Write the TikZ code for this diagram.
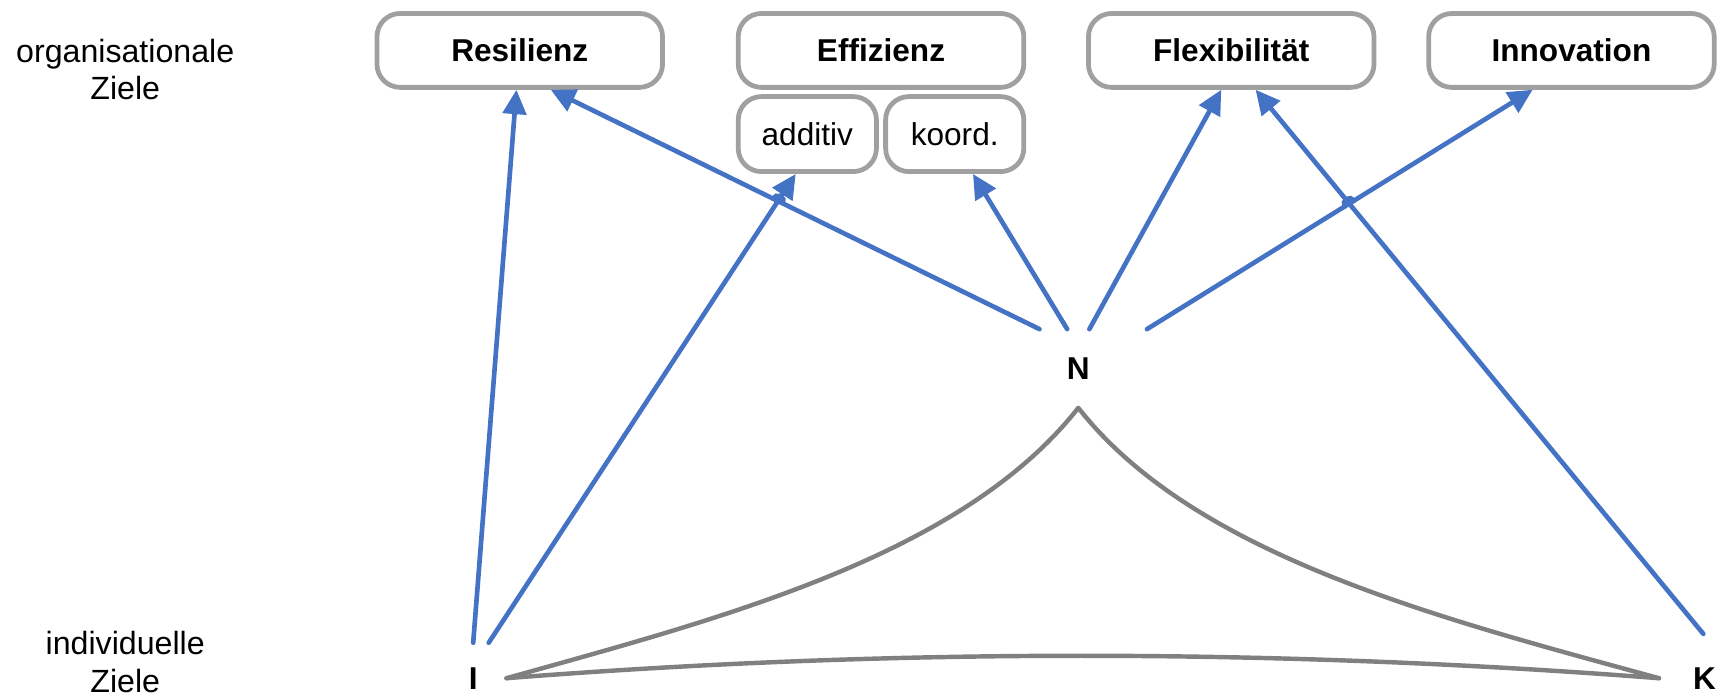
\documentclass[tikz,border=0pt]{standalone}
\usepackage{fontspec}
\setmainfont{Liberation Sans}
\usetikzlibrary{arrows.meta,calc}
\definecolor{boxgray}{RGB}{160,160,160}
\definecolor{curvegray}{RGB}{128,128,128}
\definecolor{arrblue}{RGB}{68,114,196}
\begin{document}
\begin{tikzpicture}[x=1pt,y=-1pt,
  goal/.style={draw=boxgray, line width=4.3pt, rounded corners=21pt, fill=white,
    minimum width=257.7pt, minimum height=66.7pt, inner sep=0pt,
    text height=20.3pt, text depth=0pt, font=\fontsize{28.5}{33}\selectfont\bfseries},
  sub/.style={draw=boxgray, line width=4.3pt, rounded corners=21pt, fill=white,
    minimum width=124.7pt, minimum height=67.7pt, inner sep=0pt,
    text height=20.3pt, text depth=0pt, font=\fontsize{28.5}{33}\selectfont},
  lab/.style={anchor=base, inner sep=0pt, font=\fontsize{29}{33.5}\selectfont},
  pnt/.style={inner sep=0pt, text height=20.3pt, text depth=0pt, font=\fontsize{28.5}{33}\selectfont\bfseries},
  arr/.style={draw=arrblue, line width=4.2pt, line cap=round, -{Triangle[length=22pt,width=21pt]}},
  hop/.style={draw=arrblue, line width=4.2pt, line cap=round},
  link/.style={draw=curvegray, line width=4pt, line cap=round, line join=round}
]
\useasboundingbox (0,0) rectangle (1566.5,630.8);

% side labels
\node[lab] (org1) at (113,56) {organisationale};
\node[lab] (org2) at (113,89.5) {Ziele};
\node[lab] (ind1) at (113,591) {individuelle};
\node[lab] (ind2) at (113,624.5) {Ziele};

% goal boxes
\node[goal] (res) at (469,45.5) {Resilienz};
\node[goal] (eff) at (795,45.5) {Effizienz};
\node[goal] (flex) at (1111,45.5) {Flexibilität};
\node[goal] (inn) at (1418,45.5) {Innovation};
\node[sub] (add) at (728.5,121) {additiv};
\node[sub] (koo) at (861.5,121) {koord.};

% actors
\node[pnt] (I) at (427,612) {I};
\node[pnt] (N) at (973,332) {N};
\node[pnt] (K) at (1538,612) {K};

% connector ends
\coordinate (i1) at (427,580);
\coordinate (i2) at (441,580);
\coordinate (n1) at (938,297);
\coordinate (n2) at (963,297);
\coordinate (n3) at (983,297);
\coordinate (n4) at (1035,297);
\coordinate (k1) at (1537,572);
\coordinate (tRes1) at ([xshift=-3pt]res.south);
\coordinate (tRes2) at ([xshift=28pt]res.south);
\coordinate (tAdd) at ([xshift=-10.5pt]add.south);
\coordinate (tKoo) at ([xshift=16.5pt]koo.south);
\coordinate (tFlex1) at ([xshift=-9pt]flex.south);
\coordinate (tFlex2) at ([xshift=22pt]flex.south);
\coordinate (tInn) at ([xshift=-35pt]inn.south);

\coordinate (iC) at (457,612);
\coordinate (nC) at (973,368);
\coordinate (kC) at (1497,612);

% grey triangle
\draw[link] (iC) .. controls (650,558) and (868,502) .. (nC)
            .. controls (1078,502) and (1300,558) .. (kC);
\draw[link] (iC) .. controls (800,585) and (1150,585) .. (kC);

% arrows
\draw[arr] (i1) -- (tRes1);
\draw[arr] (i2) -- (tAdd);
\draw[arr] (n1) -- (tRes2);
\draw[arr] (n2) -- (tKoo);
\draw[arr] (n3) -- (tFlex1);
\draw[arr] (n4) -- (tInn);
\draw[arr] (k1) -- (tFlex2);

% line hops at crossings
\coordinate (x1) at (intersection of i2--tAdd and n1--tRes2);
\coordinate (x2) at (intersection of k1--tFlex2 and n4--tInn);
\draw[hop] ($(x1)!5pt!(n1)$) arc[start angle=-25.9, end angle=154.1, radius=5pt];
\draw[hop] ($(x2)!5pt!(n4)$) arc[start angle=211.6, end angle=31.6, radius=5pt];
\end{tikzpicture}
\end{document}
